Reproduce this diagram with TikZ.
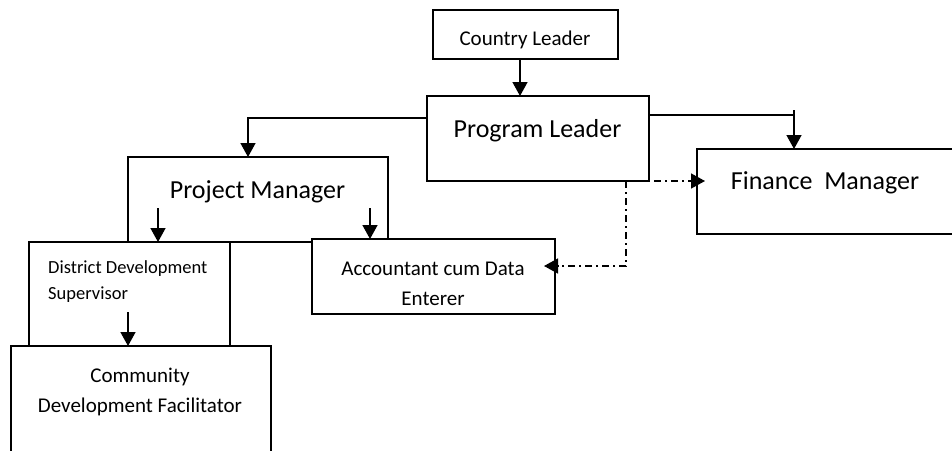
\documentclass[tikz,border=0pt]{standalone}
\usepackage{fontspec}
\setmainfont{Carlito}
\usetikzlibrary{arrows.meta}
\tikzset{
  box/.style={draw=black, line width=1.5pt, fill=white, inner sep=0pt, outer sep=0pt},
  arr/.style={line width=1.5pt, -{Triangle[width=15pt,length=14pt]}},
  dashdot/.style={line width=1.5pt, dash pattern=on 7pt off 4pt on 2pt off 4pt, -{Triangle[width=15pt,length=14pt]}},
  bigtxt/.style={font=\fontsize{26}{31}\selectfont, inner sep=0pt},
  midtxt/.style={font=\fontsize{21}{29.5}\selectfont, inner sep=0pt, align=center},
  smalltxt/.style={font=\fontsize{18.5}{26}\selectfont, inner sep=0pt, align=left},
}
\begin{document}
\begin{tikzpicture}[x=1pt,y=-1pt]
\useasboundingbox (0,0) rectangle (952,450);
\clip (0,0) rectangle (952,450);
% boxes
\node[box, minimum width=185pt, minimum height=49pt] (cl) at (525.5,34.5) {};
\node[box, minimum width=222pt, minimum height=85pt] (pl) at (538,138.5) {};
\node[box, minimum width=283pt, minimum height=85pt] (fm) at (838.5,191.5) {};
\node[box, minimum width=260pt, minimum height=85pt] (pm) at (258,199.5) {};
\node[box, minimum width=201pt, minimum height=104pt] (dds) at (129.5,294) {};
\node[box, minimum width=243pt, minimum height=75pt] (acc) at (433.5,276.5) {};
\node[box, minimum width=260pt, minimum height=134pt] (cdf) at (141,413) {};
% texts
\node[midtxt, anchor=base] (clt) at (525,45) {Country Leader};
\node[bigtxt, anchor=base] (plt) at (537.5,137) {Program Leader};
\node[bigtxt, anchor=base] (fmt) at (825,189) {Finance\ \ Manager};
\node[bigtxt, anchor=base] (pmt) at (257.5,198) {Project Manager};
\node[smalltxt, anchor=west] (ddst) at (48,282) {District Development\\Supervisor};
\node[midtxt] (cdft) at (140,392) {Community\\Development Facilitator};
\node[midtxt] (acct) at (433,284) {Accountant cum Data\\Enterer};
% free ends
\coordinate (pl1) at (pl.west |- 0,118);
\coordinate (pl2) at (pl.east |- 0,115);
\coordinate (fmc) at (794,115);
\coordinate (fmtop) at (794,110);
\coordinate (pm1) at (158,208);
\coordinate (pm2) at (370,208);
\coordinate (dd1) at (128,312);
\coordinate (dsh1) at (620,181);
\coordinate (dsh2) at (626,181);
\coordinate (dsh3) at (626,266);
% connectors
\draw[arr] (cl.south -| 520,0) -- (pl.north -| 520,0);
\draw[arr] (pl1) -| (pm.north -| 248,0);
\draw[line width=1.5pt] (pl2) -- (fmc);
\draw[arr] (fmtop) -- (fm.north -| fmtop);
\draw[arr] (pm1) -- (dds.north -| pm1);
\draw[arr] (pm2) -- (acc.north -| pm2);
\draw[arr] (dd1) -- (cdf.north -| dd1);
\draw[dashdot] (dsh1) -- ([xshift=8pt]fm.west |- dsh1);
\draw[dashdot] (pl.south -| dsh2) -- (dsh3) -- ([xshift=-11pt]acc.east |- dsh3);
\end{tikzpicture}
\end{document}
